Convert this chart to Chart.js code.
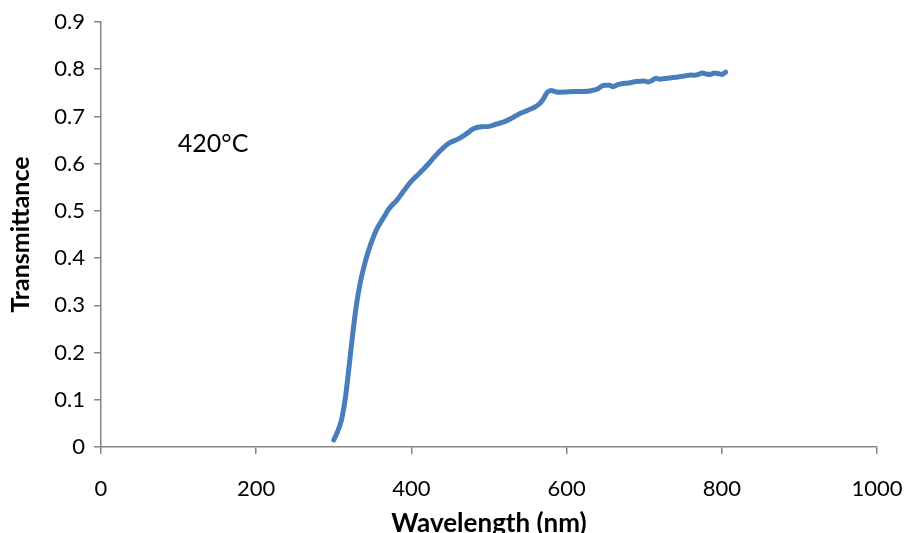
<!DOCTYPE html>
<html>
<head>
<meta charset="utf-8">
<script src="https://cdn.jsdelivr.net/npm/chart.js@4"></script>
<style>
  html, body { margin: 0; padding: 0; background: #fff; }
  #wrap { width: 906px; height: 533px; }
</style>
</head>
<body>
<div id="wrap"><canvas id="myChart" width="906" height="533"></canvas></div>
<script>
const wavelength = [300, 305, 310, 315, 320, 325, 330, 335, 340, 345, 350, 355, 360, 365, 370, 375, 380, 390, 400, 410, 420, 430, 440, 450, 460, 470, 480, 490, 500, 510, 520, 530, 540, 550, 560, 565, 570, 575, 580, 585, 590, 600, 610, 620, 630, 640, 645, 650, 655, 660, 665, 670, 680, 690, 700, 705, 710, 715, 720, 730, 740, 750, 760, 765, 770, 775, 780, 785, 790, 795, 800, 805];
const transmittance = [0.015, 0.033, 0.058, 0.105, 0.175, 0.248, 0.31, 0.355, 0.389, 0.417, 0.44, 0.46, 0.475, 0.488, 0.502, 0.512, 0.52, 0.542, 0.563, 0.579, 0.596, 0.615, 0.632, 0.645, 0.652, 0.662, 0.674, 0.678, 0.679, 0.684, 0.689, 0.697, 0.706, 0.713, 0.721, 0.727, 0.737, 0.751, 0.755, 0.753, 0.751, 0.752, 0.753, 0.753, 0.754, 0.758, 0.764, 0.766, 0.766, 0.763, 0.767, 0.769, 0.771, 0.774, 0.775, 0.773, 0.776, 0.781, 0.779, 0.781, 0.783, 0.785, 0.788, 0.787, 0.789, 0.792, 0.79, 0.789, 0.792, 0.791, 0.789, 0.794];
const xTicks = [0, 200, 400, 600, 800, 1000];
const yTicks = [0, 0.1, 0.2, 0.3, 0.4, 0.5, 0.6, 0.7, 0.8, 0.9];
const noteText = "420°C";

const ctx = document.getElementById("myChart");
const axisGray = "#868686";
const font = "Lato";

// the temperature label inside the plot
const notePlugin = {
    id: "note",
    afterDatasetsDraw(chart) {
        const c = chart.ctx;
        const x = chart.scales.x.getPixelForValue(99);
        const y = chart.scales.y.getPixelForValue(0.642);
        c.save();
        c.font = "25px " + font;
        c.fillStyle = "#000";
        c.textAlign = "left";
        c.textBaseline = "middle";
        c.fillText(noteText, x, y);
        c.restore();
    },
};

new Chart(ctx, {
    type: "line",
    data: {
        datasets: [
            {
                label: "Transmittance",
                data: wavelength.map((w, i) => ({ x: w, y: transmittance[i] })),
                borderColor: "#4a7ebb",
                borderWidth: 5,
                pointRadius: 0,
                cubicInterpolationMode: "monotone",
                borderCapStyle: "round",
                borderJoinStyle: "round",
            },
        ],
    },
    options: {
        responsive: false,
        animation: false,
        layout: {
            padding: { left: 0, right: 29, top: 22, bottom: 0 },
        },
        plugins: {
            legend: { display: false },
            tooltip: { enabled: false },
        },
        scales: {
            x: {
                type: "linear",
                min: 0,
                max: 1000,
                afterBuildTicks: (s) => { s.ticks = xTicks.map((v) => ({ value: v })); },
                afterFit: (s) => {
                    s.height = 86;
                    s.paddingLeft = 0;
                    s.paddingRight = 0;
                },
                ticks: {
                    color: "#000",
                    font: { family: font, size: 22 },
                    padding: 22,
                    maxRotation: 0,
                    callback: (v) => String(v),
                },
                grid: {
                    drawOnChartArea: false,
                    drawTicks: true,
                    tickLength: 7,
                    color: axisGray,
                    lineWidth: 1.5,
                },
                border: { display: true, color: axisGray, width: 1.5 },
                title: {
                    display: true,
                    text: "Wavelength (nm)",
                    color: "#000",
                    font: { family: font, size: 26, weight: "bold" },
                    padding: { top: 0, bottom: -6 },
                },
            },
            y: {
                type: "linear",
                min: 0,
                max: 0.9,
                afterBuildTicks: (s) => { s.ticks = yTicks.map((v) => ({ value: v })); },
                afterFit: (s) => {
                    s.width = 101;
                    s.paddingTop = 0;
                    s.paddingBottom = 0;
                },
                ticks: {
                    color: "#000",
                    font: { family: font, size: 22 },
                    padding: 9,
                    callback: (v) => String(Math.round(v * 10) / 10),
                },
                grid: {
                    drawOnChartArea: false,
                    drawTicks: true,
                    tickLength: 7,
                    color: axisGray,
                    lineWidth: 1.5,
                },
                border: { display: true, color: axisGray, width: 1.5 },
                title: {
                    display: true,
                    text: "Transmittance",
                    color: "#000",
                    font: { family: font, size: 25, weight: "bold" },
                    padding: { top: 6, bottom: 0 },
                },
            },
        },
    },
    plugins: [notePlugin],
});
</script>
</body>
</html>
